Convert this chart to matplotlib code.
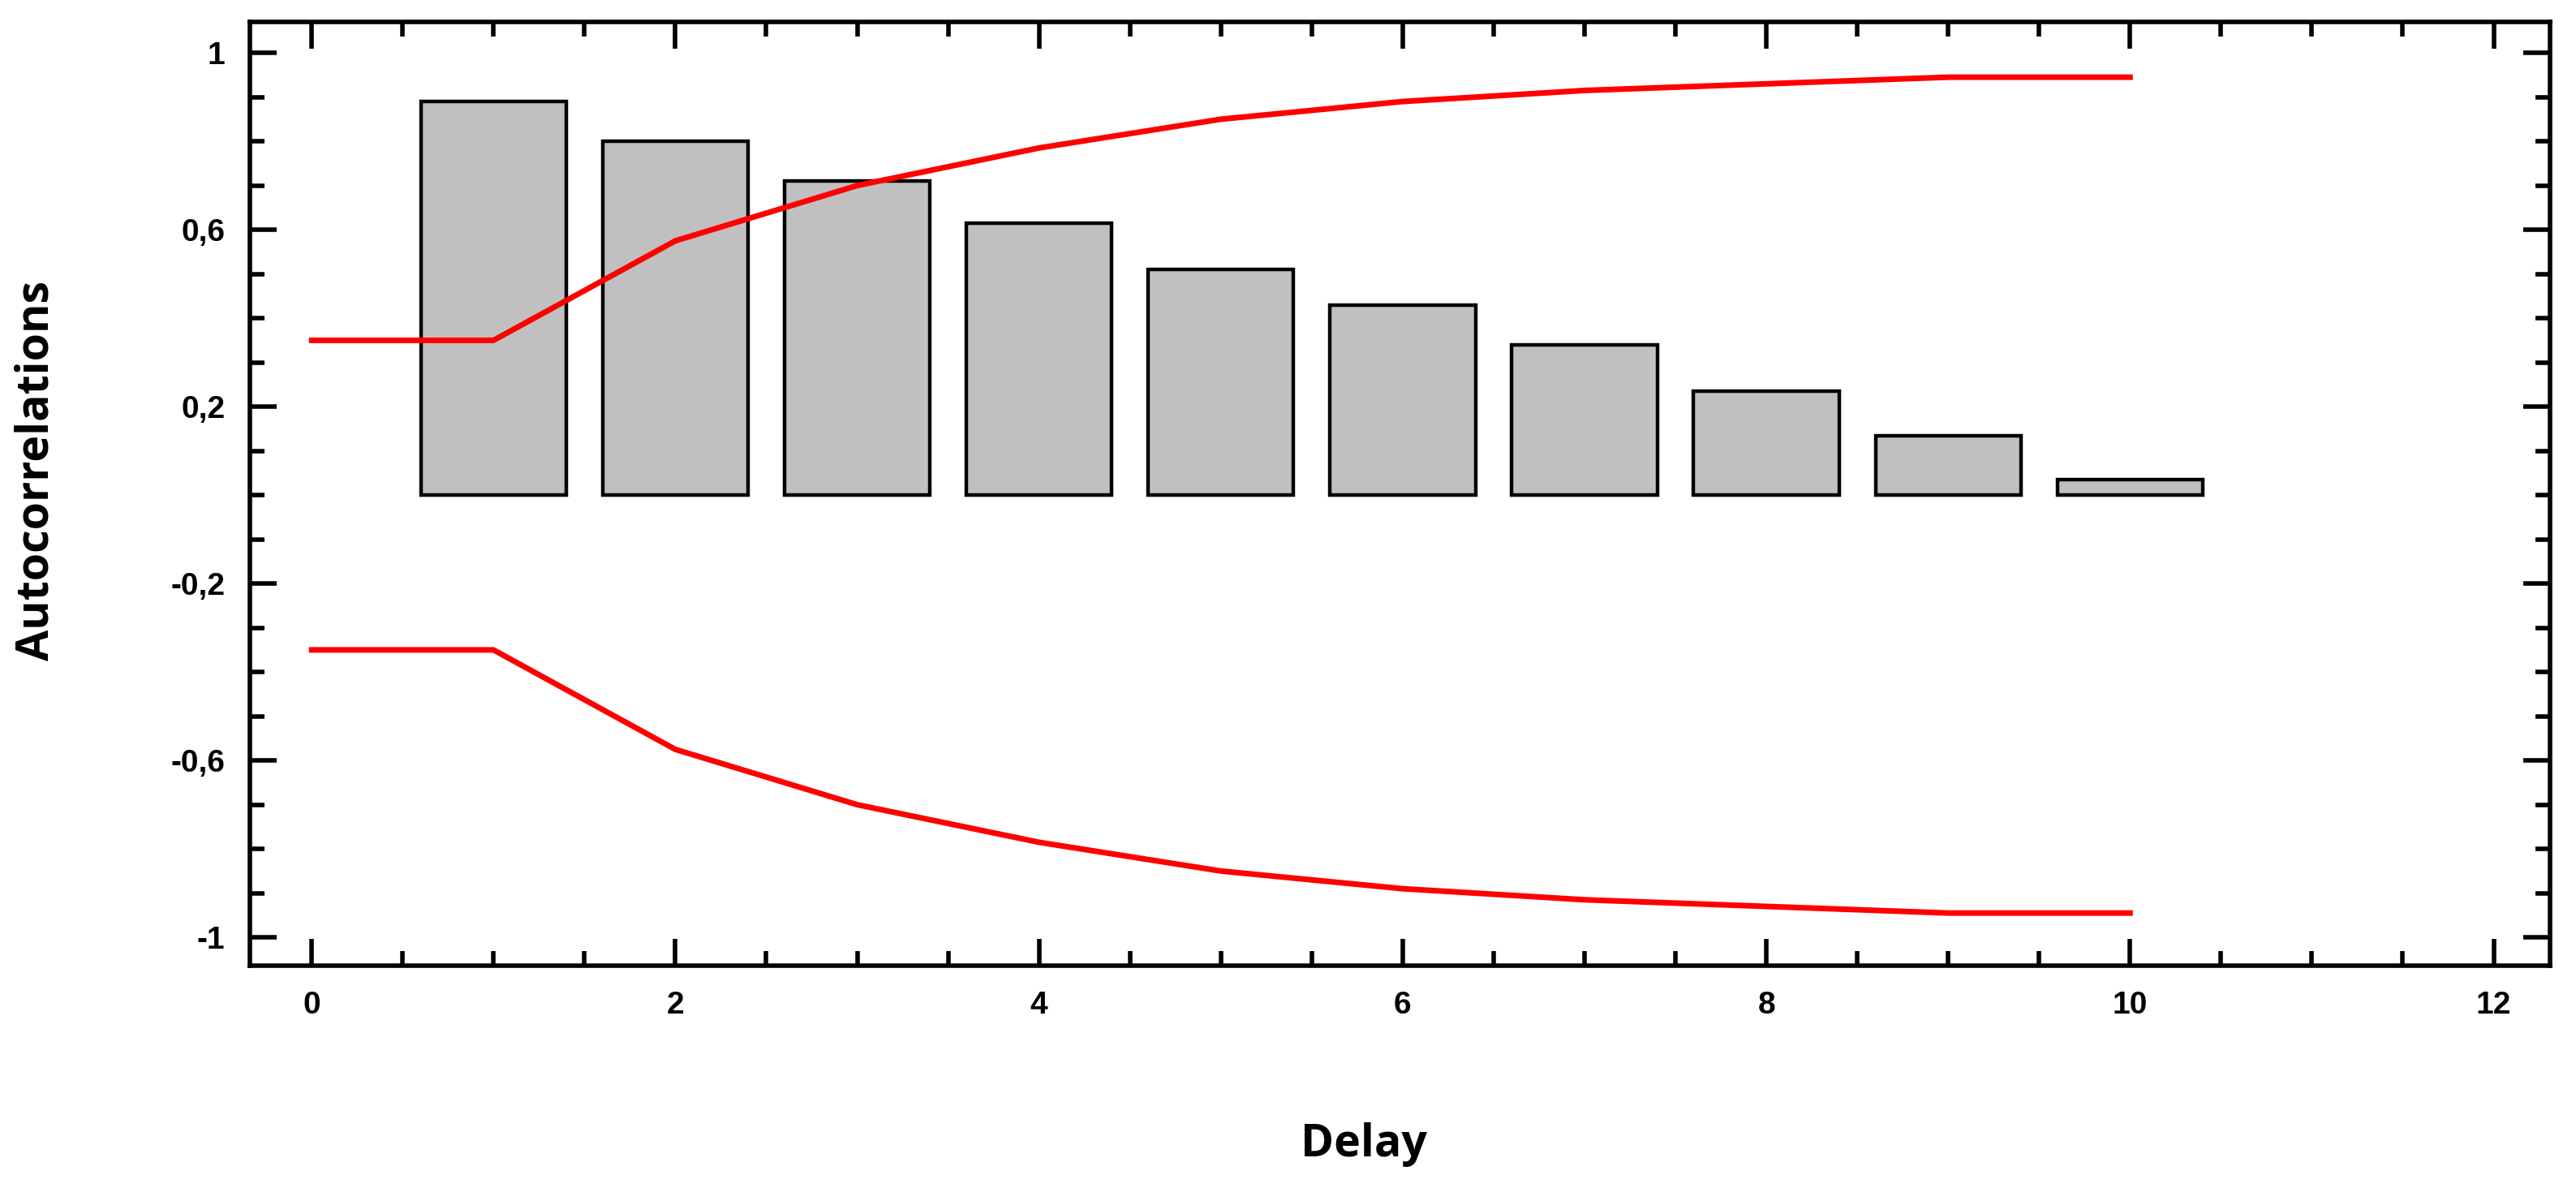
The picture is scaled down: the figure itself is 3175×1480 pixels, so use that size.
import matplotlib
matplotlib.use("Agg")
import matplotlib.pyplot as plt
from matplotlib.ticker import MultipleLocator, FixedLocator

lags = [1, 2, 3, 4, 5, 6, 7, 8, 9, 10]
acf = [0.89, 0.80, 0.71, 0.615, 0.51, 0.43, 0.34, 0.235, 0.135, 0.035]
band_x = [0, 1, 2, 3, 4, 5, 6, 7, 8, 9, 10]
band_upper = [0.35, 0.35, 0.575, 0.70, 0.785, 0.85, 0.89, 0.915, 0.93, 0.945, 0.945]
band_lower = [-v for v in band_upper]
yticks = [1, 0.6, 0.2, -0.2, -0.6, -1]
ytick_labels = ["1", "0,6", "0,2", "-0,2", "-0,6", "-1"]
xticks = [0, 2, 4, 6, 8, 10, 12]

fam = ['Liberation Sans Narrow', 'Liberation Sans', 'DejaVu Sans']
fig = plt.figure(figsize=(31.75, 14.8), dpi=100)
ax = fig.add_axes([308/3175, 1 - 1190/1480, (3143-308)/3175, (1190-27)/1480])

ax.bar(lags, acf, width=0.8, color='#c0c0c0', edgecolor='black', linewidth=3.2, zorder=2)
ax.plot(band_x, band_upper, color='#ff0000', lw=5, zorder=3)
ax.plot(band_x, band_lower, color='#ff0000', lw=5, zorder=3)

ax.set_xlim(-0.34, 12.31)
ax.set_ylim(-1.064, 1.07)
ax.xaxis.set_major_locator(FixedLocator(xticks))
ax.xaxis.set_minor_locator(MultipleLocator(0.5))
ax.yaxis.set_major_locator(FixedLocator(yticks))
ax.yaxis.set_minor_locator(MultipleLocator(0.1))
ax.set_yticklabels(ytick_labels)
ax.set_xticklabels([str(v) for v in xticks])
ax.tick_params(which='both', direction='in', top=True, right=True, width=4, color='black')
ax.tick_params(which='major', length=24, pad=22, labelsize=28)
ax.tick_params(which='minor', length=13)
for lab in ax.get_xticklabels() + ax.get_yticklabels():
    lab.set_family(fam)
    lab.set_fontweight('bold')
for s in ax.spines.values():
    s.set_linewidth(4)

fig.text(830/1568*1, 1 - 1410/1480, "Delay", ha='center', va='center', fontsize=40,
         fontweight='bold', family=['Open Sans', 'DejaVu Sans'])
fig.text(45/3175, 1 - 580/1480, "Autocorrelations", ha='center', va='center', rotation=90,
         fontsize=40, fontweight='bold', family=['Open Sans', 'DejaVu Sans'])

fig.savefig("out.png", dpi=100)
